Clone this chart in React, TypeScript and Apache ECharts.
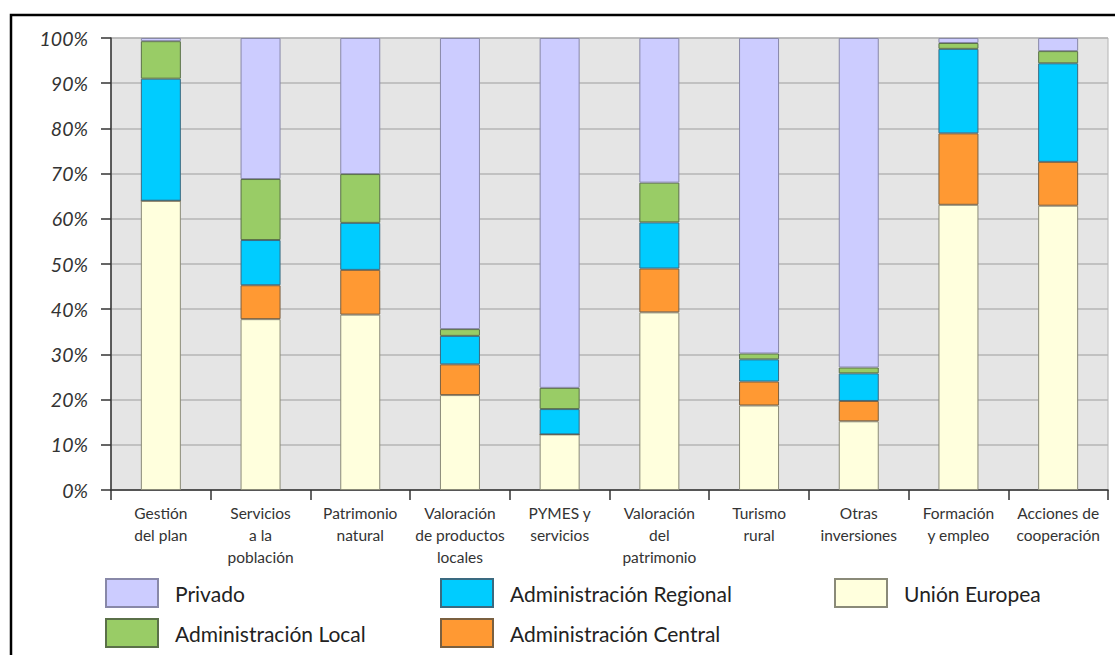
import React, { useEffect, useRef } from "react";
import * as echarts from "echarts";

const categories = [
  "Gestión\ndel plan",
  "Servicios\na la\npoblación",
  "Patrimonio\nnatural",
  "Valoración\nde productos\nlocales",
  "PYMES y\nservicios",
  "Valoración\ndel\npatrimonio",
  "Turismo\nrural",
  "Otras\ninversiones",
  "Formación\ny empleo",
  "Acciones de\ncooperación",
];

const unionEuropea = [64, 37.8, 38.8, 21, 12.3, 39.3, 18.7, 15.2, 63.1, 62.9];
const adminCentral = [0, 7.5, 9.9, 6.8, 0, 9.7, 5.3, 4.5, 15.8, 9.7];
const adminRegional = [27, 10, 10.4, 6.3, 5.6, 10.2, 4.9, 6.1, 18.7, 21.8];
const adminLocal = [8.3, 13.5, 10.8, 1.5, 4.7, 8.8, 1.3, 1.3, 1.3, 2.7];
const privado = [0.7, 31.2, 30.1, 64.4, 77.4, 32, 69.8, 72.9, 1.1, 2.9];

const yTicks = [0, 10, 20, 30, 40, 50, 60, 70, 80, 90, 100];

const FONT = "Lato";

export default function App() {
  const ref = useRef<HTMLDivElement>(null);
  useEffect(() => {
    document.body.style.margin = "0";
    const chart = echarts.init(ref.current!, null, { renderer: "svg" });
    const mk = (name: string, data: number[], color: string, border: string) => ({
      name,
      type: "bar",
      stack: "total",
      barWidth: 40,
      data,
      itemStyle: { color, borderColor: border, borderWidth: 1 },
    });
    const legendText = { fontFamily: FONT, fontSize: 21, color: "#222", padding: [0, 0, 0, 12] };
    const legendBase = {
      top: 578,
      orient: "vertical",
      padding: 0,
      icon: "rect",
      itemWidth: 52,
      itemHeight: 28,
      itemGap: 10,
      textStyle: legendText,
    };
    chart.setOption({
      animation: false,
      textStyle: { fontFamily: FONT },
      grid: {
        left: 111,
        right: 7,
        top: 38,
        bottom: 165,
        show: true,
        backgroundColor: "#e5e5e5",
        borderColor: "#b4b4b4",
        borderWidth: 1,
      },
      legend: [
        { ...legendBase, left: 105, data: ["Privado", "Administración Local"] },
        { ...legendBase, left: 440, data: ["Administración Regional", "Administración Central"] },
        { ...legendBase, left: 834, data: ["Unión Europea"] },
      ],
      xAxis: {
        type: "category",
        data: categories,
        axisLine: { lineStyle: { color: "#333", width: 1.5 } },
        axisTick: { show: true, length: 10, alignWithLabel: false, lineStyle: { color: "#333", width: 1.5 } },
        axisLabel: {
          interval: 0,
          margin: 12,
          fontFamily: FONT,
          fontSize: 15.5,
          lineHeight: 22,
          color: "#333",
          align: "center",
        },
      },
      yAxis: {
        type: "value",
        min: yTicks[0],
        max: yTicks[yTicks.length - 1],
        interval: 10,
        axisLine: { show: true, lineStyle: { color: "#333", width: 1.5 } },
        axisTick: { show: true, length: 10, lineStyle: { color: "#333", width: 1.5 } },
        splitLine: { show: true, lineStyle: { color: "#b4b4b4", width: 1.5 } },
        axisLabel: {
          margin: 23,
          fontFamily: FONT,
          fontSize: 19.5,
          fontStyle: "italic",
          color: "#333",
          formatter: "{value}%",
        },
      },
      graphic: [
        {
          type: "rect",
          shape: { x: 11, y: 15, width: 1200, height: 800 },
          style: { fill: "none", stroke: "#000", lineWidth: 2.5 },
          silent: true,
        },
      ],
      series: [
        mk("Unión Europea", unionEuropea, "#ffffdd", "#8a8a78"),
        mk("Administración Central", adminCentral, "#ff9933", "#7a6040"),
        mk("Administración Regional", adminRegional, "#00ccff", "#3a6a80"),
        mk("Administración Local", adminLocal, "#99cc66", "#5a7048"),
        mk("Privado", privado, "#ccccff", "#8888a8"),
      ],
    });
    return () => chart.dispose();
  }, []);
  return <div ref={ref} style={{ width: 1115, height: 655 }} />;
}
